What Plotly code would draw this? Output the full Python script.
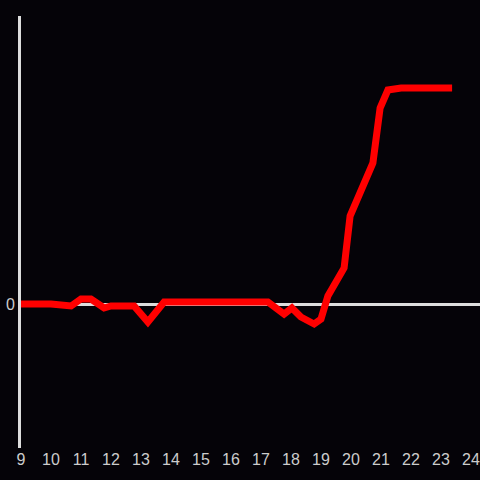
import plotly.graph_objects as go

hours = [9.0, 10.0, 10.67, 11.0, 11.33, 11.77, 12.0, 12.77, 13.23, 13.77, 17.23, 17.77, 18.03,
         18.33, 18.77, 19.0, 19.23, 19.77, 19.97, 20.73, 20.97, 21.23, 21.67, 23.37]
values = [0, 0, -2, 5, 5, -4, -2, -2, -18, 2, 2, -10, -4,
          -13, -20, -15, 8, 36, 88, 141, 196, 214, 216, 216]
x_ticks = list(range(9, 25))

bg = "#050308"
axis_col = "#dddddd"

fig = go.Figure(go.Scatter(
    x=hours, y=values, mode="lines",
    line=dict(color="#ff0000", width=7),
    hoverinfo="skip",
))

fig.update_layout(
    width=480, height=480,
    margin=dict(l=21, r=0, t=16, b=32),
    paper_bgcolor=bg, plot_bgcolor=bg,
    showlegend=False,
    font=dict(family="Liberation Sans, Arial, sans-serif", size=16, color="#cccccc"),
    xaxis=dict(range=[9, 24.3], tickvals=x_ticks, showgrid=False, zeroline=False,
               showline=False, ticks="", ticklabeloverflow="allow",
               tickfont=dict(size=16, color="#cccccc")),
    yaxis=dict(range=[-144, 288], tickvals=[0], showgrid=False, zeroline=True,
               zerolinecolor=axis_col, zerolinewidth=3, showline=True,
               linecolor=axis_col, linewidth=3, ticks="", ticklabelstandoff=0,
               tickfont=dict(size=16, color="#cccccc")),
)

fig.write_html(
    "out.html",
    config={"displayModeBar": False},
    post_script="document.body.style.margin='0';document.body.style.background='%s';" % bg,
)
